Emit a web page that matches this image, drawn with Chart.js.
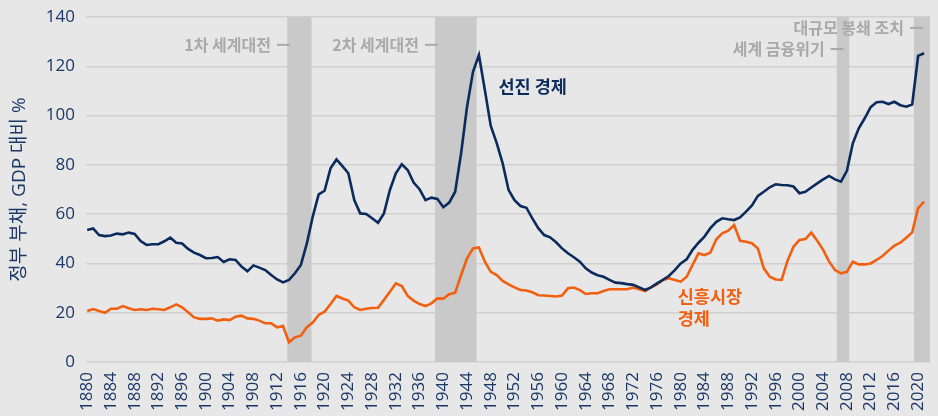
<!DOCTYPE html>
<html lang="ko">
<head>
<meta charset="utf-8">
<script src="https://cdn.jsdelivr.net/npm/chart.js@4/dist/chart.umd.min.js"></script>
<style>
  html, body { margin: 0; padding: 0; background: #e7e7e7; }
  #wrap { width: 938px; height: 416px; position: relative; }
</style>
</head>
<body>
<div id="wrap"><canvas id="debt"></canvas></div>
<script>
const years = [
  1880, 1881, 1882, 1883, 1884, 1885, 1886, 1887, 1888, 1889,
  1890, 1891, 1892, 1893, 1894, 1895, 1896, 1897, 1898, 1899,
  1900, 1901, 1902, 1903, 1904, 1905, 1906, 1907, 1908, 1909,
  1910, 1911, 1912, 1913, 1914, 1915, 1916, 1917, 1918, 1919,
  1920, 1921, 1922, 1923, 1924, 1925, 1926, 1927, 1928, 1929,
  1930, 1931, 1932, 1933, 1934, 1935, 1936, 1937, 1938, 1939,
  1940, 1941, 1942, 1943, 1944, 1945, 1946, 1947, 1948, 1949,
  1950, 1951, 1952, 1953, 1954, 1955, 1956, 1957, 1958, 1959,
  1960, 1961, 1962, 1963, 1964, 1965, 1966, 1967, 1968, 1969,
  1970, 1971, 1972, 1973, 1974, 1975, 1976, 1977, 1978, 1979,
  1980, 1981, 1982, 1983, 1984, 1985, 1986, 1987, 1988, 1989,
  1990, 1991, 1992, 1993, 1994, 1995, 1996, 1997, 1998, 1999,
  2000, 2001, 2002, 2003, 2004, 2005, 2006, 2007, 2008, 2009,
  2010, 2011, 2012, 2013, 2014, 2015, 2016, 2017, 2018, 2019,
  2020, 2021
];

// 선진 경제
const advanced = [
  53.6, 54.2, 51.5, 51.1, 51.3, 52.1, 51.8, 52.5, 52.0, 49.1,
  47.5, 47.8, 47.8, 49.0, 50.5, 48.4, 48.1, 45.9, 44.4, 43.4,
  42.1, 42.2, 42.6, 40.6, 41.7, 41.4, 38.7, 36.8, 39.2, 38.3,
  37.3, 35.3, 33.5, 32.3, 33.3, 36.0, 39.4, 48.0, 59.0, 68.0,
  69.5, 78.6, 82.2, 79.5, 76.6, 65.7, 60.3, 60.1, 58.3, 56.5,
  60.3, 69.8, 76.6, 80.2, 77.9, 72.8, 70.1, 65.7, 66.7, 66.2,
  62.8, 64.7, 69.1, 84.7, 103.6, 117.8, 124.6, 110.4, 95.8, 88.8,
  80.6, 69.8, 65.7, 63.3, 62.6, 58.3, 54.3, 51.5, 50.6, 48.6,
  46.1, 44.1, 42.5, 40.7, 38.0, 36.3, 35.2, 34.6, 33.3, 32.2,
  32.0, 31.6, 31.3, 30.3, 29.2, 30.3, 31.9, 33.3, 34.9, 37.3,
  40.0, 41.7, 45.5, 48.4, 50.9, 54.3, 56.9, 58.3, 57.9, 57.6,
  58.7, 61.0, 63.5, 67.4, 69.1, 70.9, 72.1, 71.8, 71.7, 71.2,
  68.5, 69.1, 70.8, 72.5, 74.1, 75.5, 74.1, 73.2, 77.6, 88.8,
  94.8, 98.9, 103.4, 105.4, 105.6, 104.7, 105.6, 104.2, 103.6, 104.5,
  124.2, 125.3
];

// 신흥시장 경제
const emerging = [
  20.7, 21.5, 20.7, 20.0, 21.6, 21.6, 22.7, 21.8, 21.1, 21.4,
  21.1, 21.6, 21.4, 21.1, 22.2, 23.4, 22.2, 20.2, 18.1, 17.5,
  17.5, 17.7, 16.8, 17.3, 17.0, 18.4, 18.8, 17.7, 17.5, 16.8,
  15.7, 15.7, 14.1, 14.6, 8.0, 10.0, 10.7, 14.1, 16.0, 19.1,
  20.4, 23.5, 26.8, 25.8, 24.9, 22.2, 21.1, 21.6, 21.9, 22.0,
  25.2, 28.5, 31.9, 30.8, 26.8, 24.9, 23.5, 22.7, 23.8, 25.8,
  25.7, 27.5, 28.1, 35.3, 42.1, 46.1, 46.5, 40.7, 36.6, 35.3,
  32.9, 31.5, 30.3, 29.2, 29.0, 28.3, 27.1, 27.0, 26.8, 26.6,
  27.0, 29.9, 30.2, 29.2, 27.6, 27.9, 27.9, 28.8, 29.5, 29.5,
  29.5, 29.5, 30.2, 29.5, 28.8, 30.3, 31.5, 33.3, 34.0, 33.3,
  32.6, 34.6, 39.4, 44.1, 43.4, 44.4, 49.8, 52.2, 53.3, 55.6,
  49.2, 48.8, 48.2, 46.1, 38.0, 34.6, 33.5, 33.3, 41.1, 46.8,
  49.5, 49.9, 52.5, 49.2, 45.5, 40.7, 37.3, 36.0, 36.6, 40.7,
  39.6, 39.6, 40.0, 41.4, 43.0, 45.2, 47.2, 48.4, 50.4, 52.6,
  62.4, 65.1
];

const xTicks = [
  1880, 1884, 1888, 1892, 1896, 1900, 1904, 1908, 1912, 1916,
  1920, 1924, 1928, 1932, 1936, 1940, 1944, 1948, 1952, 1956,
  1960, 1964, 1968, 1972, 1976, 1980, 1984, 1988, 1992, 1996,
  2000, 2004, 2008, 2012, 2016, 2020
];

// shaded periods (years)
const bandStart = [1913.7, 1938.6, 2006.3, 2019.3];
const bandEnd = [1917.8, 1945.6, 2008.4, 2022];

// event labels: text ends with a short dash whose right end sits at (year, value)
const eventText = ["1차 세계대전", "2차 세계대전", "세계 금융위기", "대규모 봉쇄 조치"];
const eventYear = [1914.15, 1939.1, 2007.45, 2020.8];
const eventValue = [128.7, 128.7, 127.0, 135.6];

// series labels (left edge year, line values)
const seriesText = [["선진 경제"], ["신흥시장", "경제"]];
const seriesYear = [1949.3, 1979.5];
const seriesValue = [[112.0], [26.5, 17.9]];

const NAVY = "#0b2b5c";
const ORANGE = "#f2600f";
const AXIS = "#1a3766";
const GRAY = "#a9a9a9";
const FONT = '"Open Sans", "Noto Sans CJK KR", sans-serif';
const KFONT = '"Noto Sans CJK KR", "Open Sans", sans-serif';

const eventsPlugin = {
  id: "events",
  beforeDatasetsDraw(chart) {
    const { ctx, chartArea: a, scales: { x } } = chart;
    ctx.save();
    ctx.fillStyle = "#c9c9c9";
    bandStart.forEach((s, i) => {
      const x0 = x.getPixelForValue(s);
      const x1 = Math.min(x.getPixelForValue(bandEnd[i]), a.right);
      ctx.fillRect(x0, a.top, x1 - x0, a.bottom - a.top);
    });
    ctx.restore();
  },
  afterDatasetsDraw(chart) {
    const { ctx, scales: { x, y } } = chart;
    ctx.save();
    ctx.textBaseline = "middle";

    // event labels with dash
    ctx.font = `bold 16px ${KFONT}`;
    ctx.fillStyle = GRAY;
    ctx.strokeStyle = GRAY;
    ctx.lineWidth = 2;
    ctx.textAlign = "right";
    eventText.forEach((t, i) => {
      const px = x.getPixelForValue(eventYear[i]);
      const py = y.getPixelForValue(eventValue[i]);
      ctx.beginPath();
      ctx.moveTo(px - 13, py);
      ctx.lineTo(px, py);
      ctx.stroke();
      ctx.fillText(t, px - 19, py);
    });

    // series labels
    ctx.textAlign = "left";
    ctx.font = `bold 17.5px ${KFONT}`;
    const cols = [NAVY, ORANGE];
    seriesText.forEach((lines, i) => {
      ctx.fillStyle = cols[i];
      const px = x.getPixelForValue(seriesYear[i]);
      lines.forEach((t, j) => {
        ctx.fillText(t, px, y.getPixelForValue(seriesValue[i][j]));
      });
    });
    ctx.restore();
  }
};

new Chart(document.getElementById("debt"), {
  type: "line",
  data: {
    datasets: [
      {
        label: "선진 경제",
        data: years.map((yr, i) => ({ x: yr, y: advanced[i] })),
        borderColor: NAVY,
        borderWidth: 2.6,
        pointRadius: 0,
        tension: 0,
        fill: false
      },
      {
        label: "신흥시장 경제",
        data: years.map((yr, i) => ({ x: yr, y: emerging[i] })),
        borderColor: ORANGE,
        borderWidth: 2.6,
        pointRadius: 0,
        tension: 0,
        fill: false
      }
    ]
  },
  options: {
    responsive: true,
    maintainAspectRatio: false,
    animation: false,
    layout: { padding: { top: 17, right: 8, left: 0, bottom: 0 } },
    plugins: {
      legend: { display: false },
      tooltip: { enabled: false }
    },
    scales: {
      x: {
        type: "linear",
        min: 1879.8,
        max: 2022,
        afterBuildTicks: (scale) => {
          scale.ticks = xTicks.map((v) => ({ value: v }));
        },
        afterFit: (scale) => {
          scale.height = 54;
          scale.paddingLeft = 0;
          scale.paddingRight = 0;
        },
        grid: { display: false, drawTicks: false },
        border: { display: false },
        ticks: {
          autoSkip: false,
          minRotation: 90,
          maxRotation: 90,
          padding: 10,
          color: AXIS,
          font: { family: FONT, size: 17 },
          callback: (v) => String(v)
        }
      },
      y: {
        min: 0,
        max: 140,
        afterFit: (scale) => {
          scale.width = 86;
          scale.paddingTop = 0;
          scale.paddingBottom = 0;
        },
        grid: { color: "#d0d0d0", lineWidth: 1.5, drawTicks: false },
        border: { display: false },
        ticks: {
          stepSize: 20,
          padding: 11,
          color: AXIS,
          font: { family: FONT, size: 17 }
        },
        title: {
          display: true,
          text: "정부 부채, GDP 대비 %",
          color: AXIS,
          font: { family: FONT, size: 19 },
          padding: { top: 8, bottom: 0 }
        }
      }
    }
  },
  plugins: [eventsPlugin]
});
</script>
</body>
</html>
